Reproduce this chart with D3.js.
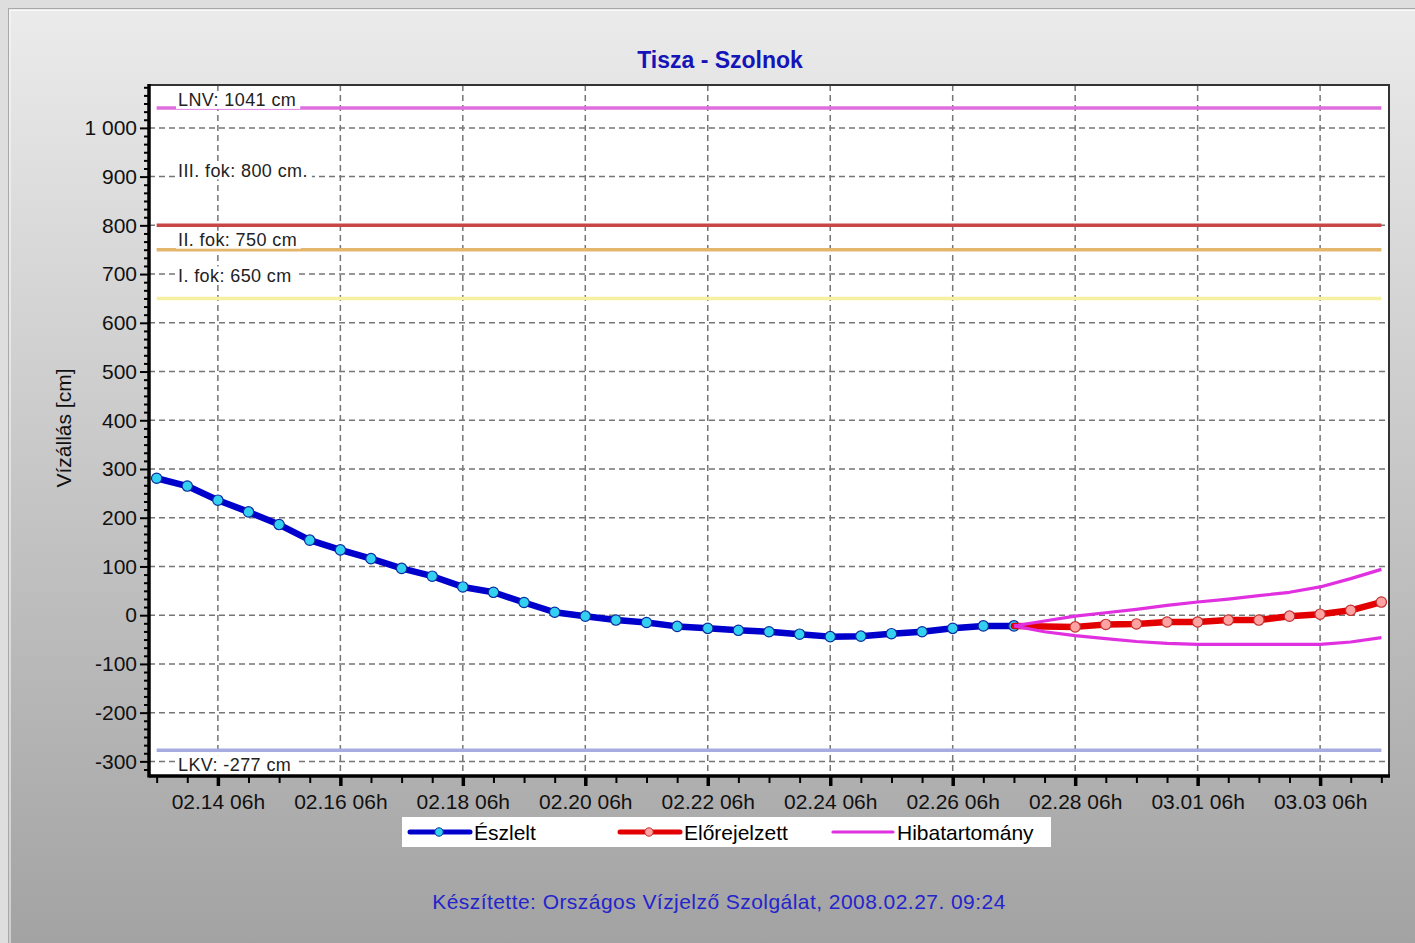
<!DOCTYPE html>
<html><head><meta charset="utf-8">
<script src="https://cdn.jsdelivr.net/npm/d3@7"></script>
<style>
body{margin:0;background:#dcdcdc;}
svg{display:block;font-family:"Liberation Sans",Arial,sans-serif;}
</style>
</head><body>
<svg id="c" width="1415" height="943"></svg>
<script>
// ---------------- DATA ----------------
const chartTitle = "Tisza - Szolnok";
const yAxisTitle = "Vízállás [cm]";
const footerText = "Készítette: Országos Vízjelző Szolgálat, 2008.02.27. 09:24";
const seriesNames = ["Észlelt", "Előrejelzett", "Hibatartomány"];

const obsTimes = ["02.13 06","02.13 18","02.14 06","02.14 18","02.15 06","02.15 18","02.16 06","02.16 18",
  "02.17 06","02.17 18","02.18 06","02.18 18","02.19 06","02.19 18","02.20 06","02.20 18","02.21 06",
  "02.21 18","02.22 06","02.22 18","02.23 06","02.23 18","02.24 06","02.24 18","02.25 06","02.25 18",
  "02.26 06","02.26 18","02.27 06"];
const obsValues = [281,265,236,212,186,154,134,116,96,80,58,47,26,6,-2,-10,-15,-23,-27,-31,-34,-39,-44,-43,-38,-34,-27,-22,-22];

const fcTimes = ["02.27 06","02.27 18","02.28 06","02.28 18","02.29 06","02.29 18","03.01 06","03.01 18",
  "03.02 06","03.02 18","03.03 06","03.03 18","03.04 06"];
const fcValues  = [-22,-23,-24,-19,-18,-14,-14,-10,-10,-2,2,10,27];
const errUpper  = [-22,-12,-2,5,12,20,27,33,40,47,58,75,94];
const errLower  = [-22,-34,-42,-48,-54,-58,-60,-60,-60,-60,-60,-55,-46];
const fcMarkerFrom = "02.28 06";

const levelNames  = ["LNV: 1041 cm", "III. fok: 800 cm.", "II. fok: 750 cm", "I. fok: 650 cm", "LKV: -277 cm"];
const levelValues = [1041, 800, 750, 650, -277];

const yTicks = [-300,-200,-100,0,100,200,300,400,500,600,700,800,900,1000];
const xTickLabels = ["02.14 06h","02.16 06h","02.18 06h","02.20 06h","02.22 06h","02.24 06h",
  "02.26 06h","02.28 06h","03.01 06h","03.03 06h"];
const xDomainTimes = ["02.13 03","03.04 09"];
const yDomain = [-330, 1088];

// ---------------- HELPERS ----------------
const parseT = s => d3.timeParse("%Y.%m.%d %H")("2008." + s);
const parseTick = s => d3.timeParse("%Y.%m.%d %Hh")("2008." + s);
const fmtTick = d3.timeFormat("%m.%d %Hh");
const loc = d3.formatLocale({decimal: ",", thousands: " ", grouping: [3], currency: ["", ""], minus: "-"});
const fmtY = loc.format(",d");
const FONT = "'Liberation Sans', Arial, sans-serif";

const svg = d3.select("#c");
const W = 1415, H = 943;
const plot = {l: 149, r: 1389, t: 85, b: 776};

const x = d3.scaleTime().domain(xDomainTimes.map(parseT)).range([plot.l, plot.r]);
const y = d3.scaleLinear().domain(yDomain).range([plot.b, plot.t]);

// ---------------- BACKGROUND ----------------
const defs = svg.append("defs");
const grad = defs.append("linearGradient").attr("id", "bg").attr("x1", 0).attr("y1", 0).attr("x2", 0).attr("y2", 1);
grad.append("stop").attr("offset", "0%").attr("stop-color", "#ebebeb");
grad.append("stop").attr("offset", "100%").attr("stop-color", "#a2a2a2");

svg.append("rect").attr("width", W).attr("height", H).attr("fill", "#dedede");
svg.append("rect").attr("x", 8.5).attr("y", 8.5).attr("width", W).attr("height", H)
  .attr("fill", "url(#bg)").attr("stroke", "#a8a8a8").attr("stroke-width", 1);
svg.append("path").attr("d", `M10,${H} V10.5 H${W}`).attr("fill", "none").attr("stroke", "#fafafa").attr("stroke-width", 1);

svg.append("rect").attr("x", plot.l).attr("y", plot.t).attr("width", plot.r - plot.l).attr("height", plot.b - plot.t)
  .attr("fill", "#ffffff");

// ---------------- GRID ----------------
const xTickDates = xTickLabels.map(parseTick);
const grid = svg.append("g");
grid.selectAll("line.h").data(yTicks).join("line")
  .attr("x1", plot.l).attr("x2", plot.r).attr("y1", d => y(d)).attr("y2", d => y(d))
  .attr("stroke", "#767676").attr("stroke-width", 1.5).attr("stroke-dasharray", "6,4");
grid.selectAll("line.v").data(xTickDates).join("line")
  .attr("x1", d => x(d)).attr("x2", d => x(d)).attr("y1", plot.t).attr("y2", plot.b)
  .attr("stroke", "#767676").attr("stroke-width", 1.5).attr("stroke-dasharray", "6,4");

// ---------------- LEVEL LINES ----------------
const levelColors = ["#de6ede", "#c84646", "#e4b66c", "#f5f0a2", "#a6acdf"];
const levelLabelDy = [-8, -55, -10, -23, 14];
const lineX0 = x(parseT(obsTimes[0])), lineX1 = x(parseT(fcTimes[fcTimes.length - 1]));
svg.append("g").selectAll("line").data(levelValues).join("line")
  .attr("x1", lineX0).attr("x2", lineX1).attr("y1", d => y(d)).attr("y2", d => y(d))
  .attr("stroke", (d, i) => levelColors[i]).attr("stroke-width", 3.5);

const lblG = svg.append("g");
levelValues.forEach((v, i) => {
  const cy = y(v) + levelLabelDy[i];
  const g = lblG.append("g");
  const bg = g.append("rect").attr("fill", "#ffffff");
  const t = g.append("text").attr("x", 178).attr("y", cy).attr("dy", "0.36em")
    .attr("font-size", 18).attr("letter-spacing", 0.4).attr("fill", "#222").text(levelNames[i]);
  const len = t.node().getComputedTextLength();
  bg.attr("x", 176).attr("y", cy - 9).attr("width", len + 6).attr("height", 18);
});

// ---------------- SERIES ----------------
const obs = obsTimes.map((t, i) => ({t: parseT(t), v: obsValues[i]}));
const fc = fcTimes.map((t, i) => ({t: parseT(t), v: fcValues[i]}));
const up = fcTimes.map((t, i) => ({t: parseT(t), v: errUpper[i]}));
const lo = fcTimes.map((t, i) => ({t: parseT(t), v: errLower[i]}));
const line = d3.line().x(d => x(d.t)).y(d => y(d.v));

const sG = svg.append("g");
sG.append("path").datum(obs).attr("d", line).attr("fill", "none").attr("stroke", "#0000cc")
  .attr("stroke-width", 6.5).attr("stroke-linejoin", "round").attr("stroke-linecap", "round");
sG.selectAll("circle.o").data(obs).join("circle").attr("class", "o")
  .attr("cx", d => x(d.t)).attr("cy", d => y(d.v)).attr("r", 5.2)
  .attr("fill", "#33d0f2").attr("stroke", "#0a2a9a").attr("stroke-width", 1.2);

sG.append("path").datum(fc).attr("d", line).attr("fill", "none").attr("stroke", "#e20000")
  .attr("stroke-width", 6.5).attr("stroke-linejoin", "round").attr("stroke-linecap", "round");
[up, lo].forEach(s => {
  sG.append("path").datum(s).attr("d", line).attr("fill", "none").attr("stroke", "#e030e0")
    .attr("stroke-width", 3.2).attr("stroke-linejoin", "round");
});
const fcFrom = parseT(fcMarkerFrom);
sG.selectAll("circle.f").data(fc.filter(d => d.t >= fcFrom)).join("circle").attr("class", "f")
  .attr("cx", d => x(d.t)).attr("cy", d => y(d.v)).attr("r", 5.2)
  .attr("fill", "#ffa2a2").attr("stroke", "#c03030").attr("stroke-width", 1.2);

// ---------------- FRAME & AXES ----------------
svg.append("path").attr("d", `M${plot.l},${plot.t} H${plot.r} V${plot.b}`)
  .attr("fill", "none").attr("stroke", "#333").attr("stroke-width", 2);

const yMinor = [];
for (let base = -400; base <= 1000; base += 100) {
  for (let j = 1; j < 6; j++) {
    const v = base + j * 100 / 6;
    if (v >= yDomain[0] && v <= yDomain[1]) yMinor.push(v);
  }
}
svg.append("g").attr("transform", `translate(${plot.l},0)`)
  .call(d3.axisLeft(y).tickValues(yMinor).tickSize(5).tickFormat(""))
  .call(g => g.select(".domain").remove())
  .call(g => g.selectAll("line").attr("stroke", "#000").attr("stroke-width", 2));
svg.append("g").attr("transform", `translate(${plot.l},0)`)
  .call(d3.axisLeft(y).tickValues(yTicks).tickSize(9).tickPadding(3).tickFormat(fmtY))
  .call(g => g.select(".domain").remove())
  .call(g => g.selectAll("line").attr("stroke", "#000").attr("stroke-width", 2))
  .call(g => g.selectAll("text").attr("font-size", 21).attr("fill", "#111").attr("font-family", FONT));

const xMinor = [];
for (let t = parseT("02.13 06"); t <= x.domain()[1]; t = d3.timeHour.offset(t, 12)) xMinor.push(t);
svg.append("g").attr("transform", `translate(0,${plot.b})`)
  .call(d3.axisBottom(x).tickValues(xMinor).tickSize(7).tickFormat(""))
  .call(g => g.select(".domain").remove())
  .call(g => g.selectAll("line").attr("stroke", "#000").attr("stroke-width", 2));
svg.append("g").attr("transform", `translate(0,${plot.b})`)
  .call(d3.axisBottom(x).tickValues(xTickDates).tickSize(10).tickPadding(8).tickFormat(fmtTick))
  .call(g => g.select(".domain").remove())
  .call(g => g.selectAll("line").attr("stroke", "#000").attr("stroke-width", 3.5))
  .call(g => g.selectAll("text").attr("font-size", 21).attr("fill", "#111").attr("font-family", FONT));

svg.append("line").attr("x1", plot.l).attr("x2", plot.l).attr("y1", plot.t - 1).attr("y2", plot.b + 1.5)
  .attr("stroke", "#000").attr("stroke-width", 3.5);
svg.append("line").attr("x1", plot.l).attr("x2", plot.r + 1).attr("y1", plot.b).attr("y2", plot.b)
  .attr("stroke", "#000").attr("stroke-width", 3.5);

// ---------------- TEXTS ----------------
svg.append("text").attr("x", 720).attr("y", 60).attr("dy", "0.36em").attr("text-anchor", "middle")
  .attr("font-size", 23).attr("font-weight", "bold").attr("fill", "#1414b8").text(chartTitle);

svg.append("text").attr("transform", "translate(63,428) rotate(-90)").attr("text-anchor", "middle")
  .attr("dy", "0.36em").attr("font-size", 21).attr("fill", "#111").text(yAxisTitle);

svg.append("text").attr("x", 719).attr("y", 901).attr("dy", "0.36em").attr("text-anchor", "middle")
  .attr("font-size", 21).attr("letter-spacing", 0.45).attr("fill", "#2424cc").text(footerText);

// ---------------- LEGEND ----------------
const leg = svg.append("g");
leg.append("rect").attr("x", 402).attr("y", 817).attr("width", 649).attr("height", 30).attr("fill", "#ffffff");
const legItems = [
  {x: 410, color: "#0000cc", w: 5, mf: "#33d0f2", ms: "#0a2a9a"},
  {x: 620, color: "#e20000", w: 5, mf: "#ffa2a2", ms: "#c03030"},
  {x: 833, color: "#e030e0", w: 3.2, mf: null}
];
legItems.forEach((it, i) => {
  const cy = 832;
  leg.append("line").attr("x1", it.x).attr("x2", it.x + 60).attr("y1", cy).attr("y2", cy)
    .attr("stroke", it.color).attr("stroke-width", it.w).attr("stroke-linecap", "round");
  if (it.mf) leg.append("circle").attr("cx", it.x + 29).attr("cy", cy).attr("r", 4.2)
    .attr("fill", it.mf).attr("stroke", it.ms).attr("stroke-width", 1);
  leg.append("text").attr("x", it.x + 64).attr("y", cy).attr("dy", "0.36em")
    .attr("font-size", 21).attr("fill", "#000").text(seriesNames[i]);
});
</script>
</body></html>
